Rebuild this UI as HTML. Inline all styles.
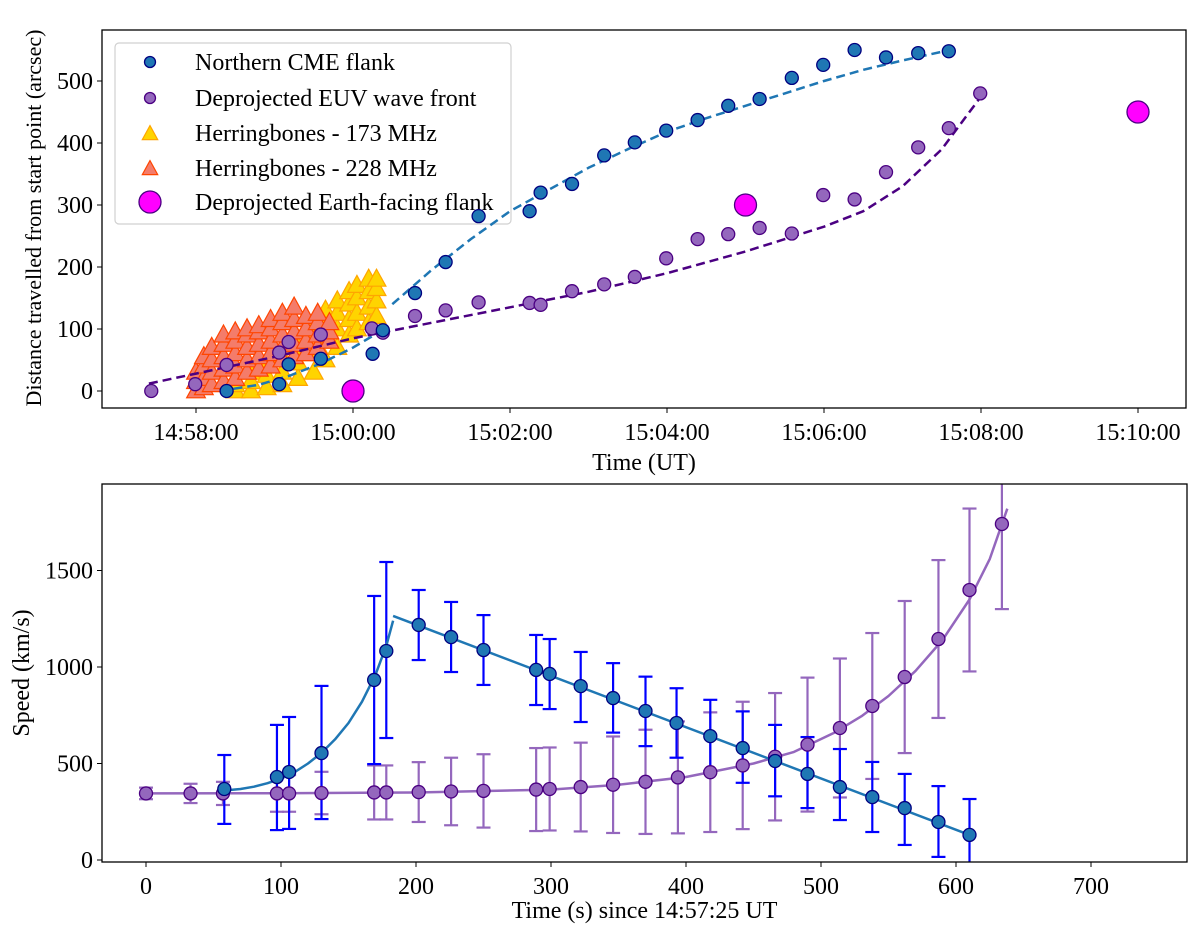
<!DOCTYPE html>
<html><head><meta charset="utf-8"><style>
html,body{margin:0;padding:0;background:#fff;}
svg{display:block;font-family:"Liberation Serif","DejaVu Serif",serif;}
</style></head><body>
<svg id="fig" width="1200" height="934" viewBox="0 0 1200 934" xmlns="http://www.w3.org/2000/svg"></svg>
<script>
// ---------- TOP PANEL DATA (time in minutes since 14:58:00, distance arcsec) ----------
const cmeT = [0.39,1.06,1.18,1.59,2.25,2.38,2.79,3.18,3.6,4.25,4.39,4.79,5.2,5.59,5.99,6.39,6.78,7.18,7.59,7.99,8.39,8.79,9.2,9.59];
const cmeD = [0,11,43,52,60,98,158,208,282,290,320,334,380,401,420,437,460,471,505,526,550,538,545,548];
const euvT = [-0.57,-0.01,0.39,1.06,1.18,1.59,2.24,2.38,2.79,3.18,3.6,4.25,4.39,4.79,5.2,5.59,5.99,6.39,6.78,7.18,7.59,7.99,8.39,8.79,9.2,9.59,9.99];
const euvD = [0,11,42,62,79,91,101,94,121,130,143,142,139,161,172,184,214,245,253,263,254,316,309,353,393,424,480];
const hb173T = [0.5,0.5,0.7,0.7,0.7,0.9,0.9,0.9,1.1,1.1,1.1,1.3,1.3,1.3,1.5,1.5,1.5,1.5,1.65,1.65,1.65,1.65,1.8,1.8,1.8,1.8,1.95,1.95,1.95,1.95,2.05,2.05,2.05,2.05,2.2,2.2,2.2,2.2,2.3,2.3,2.3,2.3];
const hb173D = [0,10,0,15,30,5,25,45,10,30,55,20,45,70,30,60,90,110,50,80,110,130,70,100,125,145,90,115,140,160,100,125,150,170,110,135,160,180,120,145,165,180];
const hb228T = [0,0,0,0.1,0.1,0.1,0.1,0.2,0.2,0.2,0.2,0.35,0.35,0.35,0.35,0.35,0.5,0.5,0.5,0.5,0.5,0.65,0.65,0.65,0.65,0.65,0.8,0.8,0.8,0.8,0.8,0.95,0.95,0.95,0.95,0.95,1.1,1.1,1.1,1.1,1.1,1.25,1.25,1.25,1.25,1.25,1.4,1.4,1.4,1.4,1.55,1.55,1.55,1.55,1.7,1.7,1.7];
const hb228D = [0,15,30,5,20,40,55,10,30,50,70,15,35,55,75,90,20,40,60,80,95,30,50,70,90,100,35,55,75,95,105,40,60,80,100,115,50,70,90,110,125,55,75,95,115,135,60,80,100,120,70,90,110,125,80,95,110];
const earthT = [2,7,12];
const earthD = [0,300,450];
const cmeFit1T = [0.3,0.8,1.2,1.6,2.0,2.4];
const cmeFit1D = [0,10,25,45,70,100];
const cmeFit2T = [2.5,3,3.5,4,4.5,5,5.5,6,6.5,7,7.5,8,8.5,9,9.6];
const cmeFit2D = [140,195,245,290,325,360,390,418,440,460,480,500,518,533,550];
const euvFitT = [-0.6,0,1,2,3,4,5,6,7,8,8.5,9,9.5,10];
const euvFitD = [12,28,55,85,110,135,160,190,225,265,290,330,390,475];
const topXTicks = [0,2,4,6,8,10,12];
const topXLabels = ["14:58:00","15:00:00","15:02:00","15:04:00","15:06:00","15:08:00","15:10:00"];
const topYTicks = [0,100,200,300,400,500];

// ---------- BOTTOM PANEL DATA (time s since 14:57:25, speed km/s) ----------
const vBlueT = [58,97,106,130,169,178,202,226,250,289,299,322,346,370,393,418,442,466,490,514,538,562,587,610];
const vBlueV = [368,430,456,554,933,1083,1218,1155,1088,985,964,901,839,772,710,642,580,513,446,378,326,269,197,130];
const vBlueHi = [544,700,741,902,1368,1544,1399,1337,1269,1166,1145,1078,1020,950,890,830,770,700,637,575,508,446,383,316];
const vBlueLo = [187,155,161,212,497,632,1036,974,907,803,782,715,660,590,530,460,400,330,269,207,145,78,16,-40];
const vPurT = [0,33,57,97,106,130,169,178,202,226,250,289,299,322,346,370,394,418,442,466,490,514,538,562,587,610,634];
const vPurV = [345,345,345,345,345,347,350,350,352,355,358,365,368,378,390,405,428,455,490,535,598,684,798,948,1145,1399,1741];
const vPurErr = [30,50,60,95,95,110,140,140,155,175,190,215,215,230,250,270,290,310,330,330,347,360,378,394,409,422,441];
const blueFit1T = [58,70,80,90,100,110,120,130,140,150,160,170,178,183];
const blueFit1V = [360,368,380,398,422,455,500,555,625,710,820,960,1110,1240];
const blueFit2T = [183,612];
const blueFit2V = [1265,125];
const purFitT = [0,100,200,300,350,400,450,480,510,530,550,570,590,610,625,638];
const purFitV = [345,346,350,365,390,430,500,560,660,745,850,980,1140,1350,1560,1820];
const botXTicks = [0,100,200,300,400,500,600,700];
const botYTicks = [0,500,1000,1500];

// ---------- helpers ----------
const NS = "http://www.w3.org/2000/svg";
const svg = document.getElementById('fig');
function el(tag, attrs, parent) {
  const e = document.createElementNS(NS, tag);
  for (const k in attrs) e.setAttribute(k, attrs[k]);
  (parent || svg).appendChild(e);
  return e;
}
function grp(name) {
  const g = el('g', {});
  
  
  return g;
}
const FS = 24;
const T = {x0:102, x1:1186, y0:30, y1:408};
const tx = t => 196 + t * 78.5;
const ty = d => 391 - d * 0.62;
const B = {x0:102, x1:1187, y0:484, y1:862};
const bx = t => 146 + t * 1.35;
const by = v => 860 - v * 0.193;

function poly(xs, ys, fx, fy, attrs, g, name) {
  const pts = xs.map((x, i) => fx(x).toFixed(1) + ',' + fy(ys[i]).toFixed(1)).join(' ');
  const p = el('polyline', Object.assign({points: pts, fill: 'none', 'stroke-linejoin':'round'}, attrs), g);
  
  
  return p;
}
function tri(cx, cy, s, fill, stroke, g, name) {
  const h = s;
  const p = el('polygon', {points: `${cx},${cy-h*0.6} ${cx-h*0.55},${cy+h*0.4} ${cx+h*0.55},${cy+h*0.4}`, fill: fill, stroke: stroke, 'stroke-width': 1.2}, g);
  
  
  return p;
}
function label(x, y, str, anchor, g, name, extra) {
  const t = el('text', Object.assign({x: x, y: y, 'text-anchor': anchor, 'font-size': FS}, extra || {}), g);
  t.textContent = str;
  
  
  return t;
}

// ---------- TOP PANEL ----------
const clipT = el('clipPath', {id: 'clipT'});
el('rect', {x: T.x0, y: T.y0, width: T.x1 - T.x0, height: T.y1 - T.y0}, clipT);
const topG = grp('distance-plot');

const leg = grp('legend'); topG.appendChild(leg);
const lbox = el('rect', {x: 115, y: 43, width: 396, height: 181, rx: 4, fill: '#fff', stroke: '#d0d0d0', 'stroke-width': 1.2}, leg);


const legY = [62, 98, 133, 168, 202];
const legText = ['Northern CME flank', 'Deprojected EUV wave front', 'Herringbones - 173 MHz', 'Herringbones - 228 MHz', 'Deprojected Earth-facing flank'];
legY.forEach((y, i) => {
  const e = grp('legend-entry'); leg.appendChild(e);
  if (i === 0) el('circle', {cx: 150, cy: y, r: 5.5, fill: '#1f77b4', stroke: '#000080', 'stroke-width': 1.3}, e);
  if (i === 1) el('circle', {cx: 150, cy: y, r: 5.5, fill: '#9467bd', stroke: '#4b0082', 'stroke-width': 1.3}, e);
  if (i === 2) tri(150, y + 1, 14, '#ffd400', '#ffa500', e, 'legend-marker');
  if (i === 3) tri(150, y + 1, 14, '#f47c6a', '#ff4500', e, 'legend-marker');
  if (i === 4) el('circle', {cx: 150, cy: y, r: 11, fill: '#ff00ff', stroke: '#4b0082', 'stroke-width': 1.3}, e);
  label(195, y + 8, legText[i], 'start', e, 'legend-label');
});

const topData = el('g', {'clip-path': 'url(#clipT)'}, topG);



const g173 = grp('herringbones-173-series'); topData.appendChild(g173);
hb173T.forEach((t, i) => tri(tx(t), ty(hb173D[i]), 17, '#ffd400', '#ffa500', g173, 'herringbone-173-marker'));
const g228 = grp('herringbones-228-series'); topData.appendChild(g228);
hb228T.forEach((t, i) => tri(tx(t), ty(hb228D[i]), 17, '#f47c6a', '#ff4500', g228, 'herringbone-228-marker'));

const fitG = grp('fit-lines'); topData.appendChild(fitG);
poly(cmeFit1T, cmeFit1D, tx, ty, {stroke: '#1f77b4', 'stroke-width': 2.5, 'stroke-dasharray': '9,5'}, fitG, 'cme-fit-early');
poly(cmeFit2T, cmeFit2D, tx, ty, {stroke: '#1f77b4', 'stroke-width': 2.5, 'stroke-dasharray': '9,5'}, fitG, 'cme-fit-late');
poly(euvFitT, euvFitD, tx, ty, {stroke: '#4b0082', 'stroke-width': 2.5, 'stroke-dasharray': '9,5'}, fitG, 'euv-fit');

const gEuv = grp('euv-wave-series'); topData.appendChild(gEuv);
euvT.forEach((t, i) => {
  const c = el('circle', {cx: tx(t), cy: ty(euvD[i]), r: 6.5, fill: '#9467bd', stroke: '#4b0082', 'stroke-width': 1.3}, gEuv);
  
  
});
const gCme = grp('cme-flank-series'); topData.appendChild(gCme);
cmeT.forEach((t, i) => {
  const c = el('circle', {cx: tx(t), cy: ty(cmeD[i]), r: 6.5, fill: '#1f77b4', stroke: '#000080', 'stroke-width': 1.3}, gCme);
  
  
});
const gEarth = grp('earth-facing-flank-series'); topData.appendChild(gEarth);
earthT.forEach((t, i) => {
  const c = el('circle', {cx: tx(t), cy: ty(earthD[i]), r: 11, fill: '#ff00ff', stroke: '#4b0082', 'stroke-width': 1.3}, gEarth);
  
  
});

const topAx = grp('top-axes'); topG.appendChild(topAx);
const tf = el('rect', {x: T.x0, y: T.y0, width: T.x1 - T.x0, height: T.y1 - T.y0, fill: 'none', stroke: '#000', 'stroke-width': 1.3}, topAx);


topXTicks.forEach((t, i) => {
  el('line', {x1: tx(t), x2: tx(t), y1: T.y1, y2: T.y1 + 5, stroke: '#000', 'stroke-width': 1}, topAx);
  label(tx(t), T.y1 + 32, topXLabels[i], 'middle', topAx, 'top-x-tick-label');
});
topYTicks.forEach(v => {
  el('line', {x1: T.x0 - 5, x2: T.x0, y1: ty(v), y2: ty(v), stroke: '#000', 'stroke-width': 1}, topAx);
  label(T.x0 - 9, ty(v) + 8, String(v), 'end', topAx, 'top-y-tick-label');
});
label((T.x0 + T.x1) / 2, 470, 'Time (UT)', 'middle', topAx, 'top-x-axis-title');
label(0, 0, 'Distance travelled from start point (arcsec)', 'middle', topAx, 'top-y-axis-title', {transform: 'translate(41,218) rotate(-90)', 'font-size': 22});

// ---------- BOTTOM PANEL ----------
const clipB = el('clipPath', {id: 'clipB'});
el('rect', {x: B.x0, y: B.y0, width: B.x1 - B.x0, height: B.y1 - B.y0}, clipB);
const botG = grp('speed-plot');
const botData = el('g', {'clip-path': 'url(#clipB)'}, botG);



function errbars(ts, lo, hi, color, g, name) {
  ts.forEach((t, i) => {
    const x = bx(t);
    const e = grp(name); g.appendChild(e);
    el('line', {x1: x, x2: x, y1: by(lo[i]), y2: by(hi[i]), stroke: color, 'stroke-width': 2.2}, e);
    el('line', {x1: x - 7, x2: x + 7, y1: by(lo[i]), y2: by(lo[i]), stroke: color, 'stroke-width': 2.2}, e);
    el('line', {x1: x - 7, x2: x + 7, y1: by(hi[i]), y2: by(hi[i]), stroke: color, 'stroke-width': 2.2}, e);
  });
}
const purLo = vPurV.map((v, i) => v - vPurErr[i]);
const purHi = vPurV.map((v, i) => v + vPurErr[i]);
const gPE = grp('euv-speed-errorbars'); botData.appendChild(gPE);
errbars(vPurT, purLo, purHi, '#9467bd', gPE, 'euv-errorbar');
const gBE = grp('cme-speed-errorbars'); botData.appendChild(gBE);
errbars(vBlueT, vBlueLo, vBlueHi, '#0000ff', gBE, 'cme-errorbar');

const bFit = grp('speed-fit-lines'); botData.appendChild(bFit);
poly(purFitT, purFitV, bx, by, {stroke: '#9467bd', 'stroke-width': 2.5}, bFit, 'euv-speed-fit');
poly(blueFit1T, blueFit1V, bx, by, {stroke: '#1f77b4', 'stroke-width': 2.5}, bFit, 'cme-speed-fit-early');
poly(blueFit2T, blueFit2V, bx, by, {stroke: '#1f77b4', 'stroke-width': 2.5}, bFit, 'cme-speed-fit-late');

const gPV = grp('euv-speed-series'); botData.appendChild(gPV);
vPurT.forEach((t, i) => {
  const c = el('circle', {cx: bx(t), cy: by(vPurV[i]), r: 6.5, fill: '#9467bd', stroke: '#4b0082', 'stroke-width': 1.3}, gPV);
  
  
});
const gBV = grp('cme-speed-series'); botData.appendChild(gBV);
vBlueT.forEach((t, i) => {
  const c = el('circle', {cx: bx(t), cy: by(vBlueV[i]), r: 6.5, fill: '#1f77b4', stroke: '#000080', 'stroke-width': 1.3}, gBV);
  
  
});

const botAx = grp('bottom-axes'); botG.appendChild(botAx);
const bf = el('rect', {x: B.x0, y: B.y0, width: B.x1 - B.x0, height: B.y1 - B.y0, fill: 'none', stroke: '#000', 'stroke-width': 1.3}, botAx);


botXTicks.forEach(t => {
  el('line', {x1: bx(t), x2: bx(t), y1: B.y1, y2: B.y1 + 5, stroke: '#000', 'stroke-width': 1}, botAx);
  label(bx(t), B.y1 + 32, String(t), 'middle', botAx, 'bottom-x-tick-label');
});
botYTicks.forEach(v => {
  el('line', {x1: B.x0 - 5, x2: B.x0, y1: by(v), y2: by(v), stroke: '#000', 'stroke-width': 1}, botAx);
  label(B.x0 - 9, by(v) + 8, String(v), 'end', botAx, 'bottom-y-tick-label');
});
label((B.x0 + B.x1) / 2, 918, 'Time (s) since 14:57:25 UT', 'middle', botAx, 'bottom-x-axis-title');
label(0, 0, 'Speed (km/s)', 'middle', botAx, 'bottom-y-axis-title', {transform: 'translate(29,673) rotate(-90)'});
</script>
</body></html>
